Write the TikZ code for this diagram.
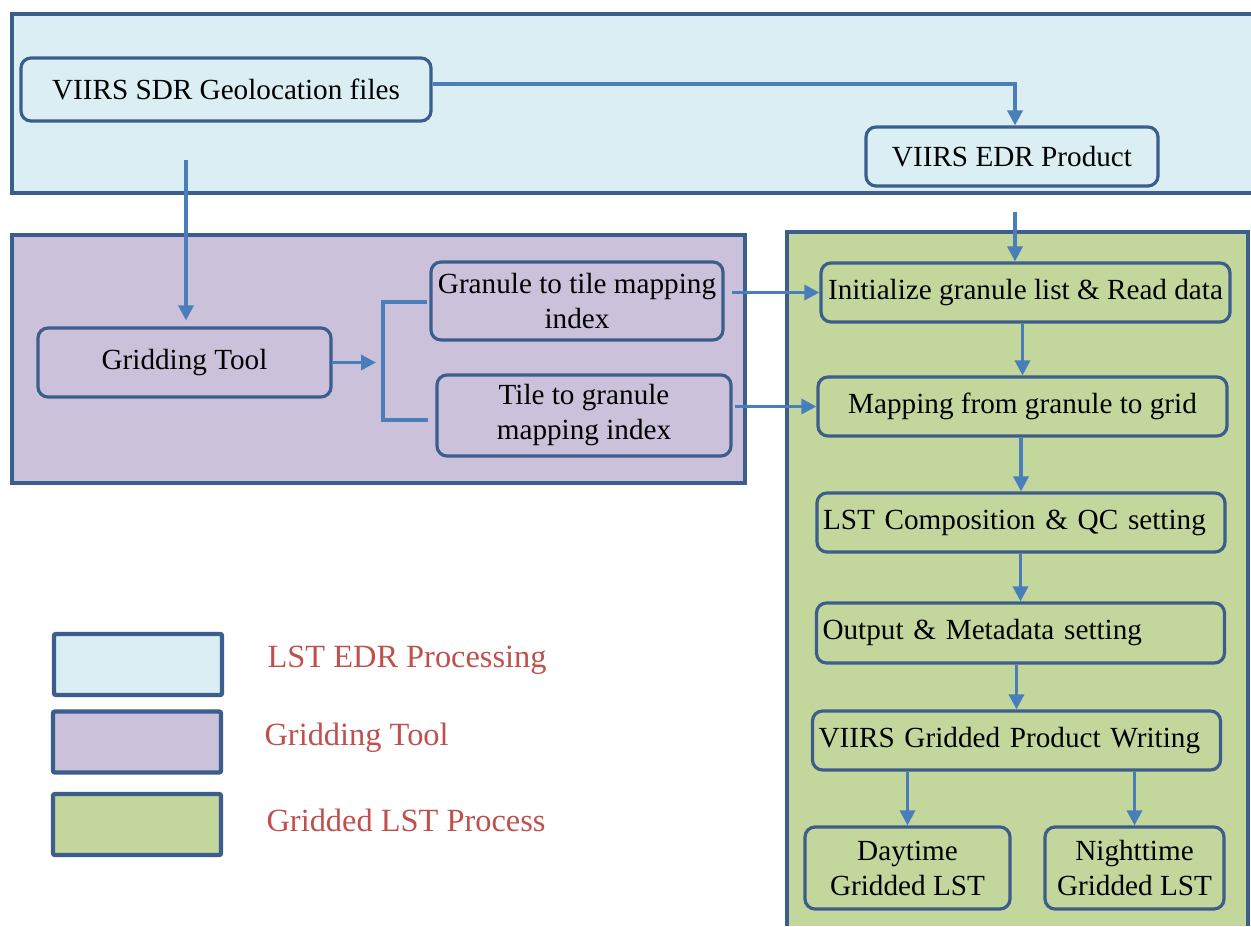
\documentclass[tikz,border=0pt]{standalone}
\usepackage{fontspec}
\setmainfont{Liberation Serif}
\usetikzlibrary{positioning,calc,arrows.meta}
\definecolor{edrblue}{HTML}{DAEEF3}
\definecolor{gridpurple}{HTML}{CCC1DA}
\definecolor{lstgreen}{HTML}{C3D69B}
\definecolor{framecol}{HTML}{3B5E8C}
\definecolor{linkcol}{HTML}{4A7EBB}
\definecolor{legred}{HTML}{C0504D}

\begin{document}
\begin{tikzpicture}[x=0.5pt,y=-0.5pt,
    every node/.style={font=\fontsize{14.6}{17.5}\selectfont},
    procbox/.style={rectangle,rounded corners=5pt,draw=framecol,line width=1.6pt,inner sep=0pt,align=center},
    leftbox/.style={procbox,align=left,inner xsep=3pt,text width=198pt},
    panel/.style={draw=framecol,line width=2pt},
    legbox/.style={rectangle,draw=framecol,line width=2.2pt,rounded corners=1pt,minimum width=84pt,minimum height=30.5pt,inner sep=0pt},
    legtext/.style={text=legred,inner sep=0pt,yshift=2pt,font=\fontsize{16.2}{19}\selectfont},
    link/.style={draw=linkcol,line width=1.7pt,-{Triangle[length=7.5pt,width=7.5pt]}},
    wire/.style={draw=linkcol,line width=1.7pt}]
    \useasboundingbox (0,0) rectangle (1251,926);
    % panels
    \fill[edrblue] (12,14) rectangle (1251,193);
    \draw[panel] (1251,14) -- (12,14) -- (12,193) -- (1251,193);
    \draw[panel,fill=gridpurple] (12,235) rectangle (745,483);
    \fill[lstgreen] (787,232) rectangle (1248,926);
    \draw[panel] (787,926) -- (787,232) -- (1248,232) -- (1248,926);
    % LST EDR processing
    \node[procbox,minimum width=205pt,minimum height=31.5pt] (sdr) at (226,89.5) {VIIRS SDR Geolocation files};
    \node[procbox,minimum width=146pt,minimum height=29.5pt] (edr) at (1012,156.5) {VIIRS EDR Product};
    % gridding tool
    \node[procbox,minimum width=146.5pt,minimum height=34.5pt] (grid) at (184.5,362.5) {Gridding Tool};
    \node[procbox,minimum width=146pt,minimum height=39pt] (g2t) at (577,301) {Granule to tile mapping\\index};
    \node[procbox,minimum width=147pt,minimum height=40.5pt] (t2g) at (584,415.5) {Tile to granule\\mapping index};
    % gridded LST process
    \node[procbox,minimum width=204.5pt,minimum height=29.5pt] (init) at (1025.5,292.5) {Initialize granule list \& Read data};
    \node[procbox,minimum width=204.5pt,minimum height=29.5pt] (map) at (1022.5,406.5) {Mapping from granule to grid};
    \node[leftbox,minimum height=29.5pt] (comp) at (1021,522.5) {LST Composition \& QC setting};
    \node[leftbox,minimum height=30pt] (meta) at (1020.5,633) {Output \& Metadata setting};
    \node[leftbox,minimum height=29.5pt] (write) at (1016.5,740.5) {VIIRS Gridded Product Writing};
    \node[procbox,minimum width=102.5pt,minimum height=41pt] (day) at (907.5,868) {Daytime\\Gridded LST};
    \node[procbox,minimum width=89.5pt,minimum height=41pt] (night) at (1134.5,868) {Nighttime\\Gridded LST};
    % connectors
    \coordinate (sdrdrop) at (186,160);
    \coordinate (edrdrop) at (1015,212);
    \coordinate (split) at (376,362.5);
    \coordinate (brtop) at (427,302);
    \coordinate (brbot) at (428,420);
    \draw[link] ([yshift=2.75pt]sdr.east) -| ([xshift=1.5pt]edr.north);
    \draw[link] (sdrdrop) -- ([yshift=3pt]sdrdrop |- grid.north);
    \draw[link] (grid.east) -- (split);
    \draw[wire] (brtop) -- (383,302) -- (383,420) -- (brbot);
    \draw[link] ([xshift=3.5pt]g2t.east |- init.west) -- (init.west);
    \draw[link] ([xshift=1pt]t2g.east |- map.west) -- (map.west);
    \draw[link] (edrdrop) -- (edrdrop |- init.north);
    \draw[link] (init.south -| map.north) -- (map.north);
    \draw[link] (map.south -| comp.north) -- (comp.north);
    \draw[link] (comp.south -| meta.north) -- (meta.north);
    \draw[link] (meta.south -| write.north) -- (write.north);
    \draw[link] (write.south -| day.north) -- (day.north);
    \draw[link] (write.south -| night.north) -- (night.north);
    % legend
    \node[legbox,fill=edrblue] (legedr) at (138,664.5) {};
    \node[legbox,fill=gridpurple] (leggrid) at (137,742) {};
    \node[legbox,fill=lstgreen] (leglst) at (137,824.5) {};
    \node[legtext,right=21.5pt of legedr] (legedrtxt) {LST EDR Processing};
    \node[legtext,right=20.5pt of leggrid] (leggridtxt) {Gridding Tool};
    \node[legtext,right=21.5pt of leglst] (leglsttxt) {Gridded LST Process};
\end{tikzpicture}
\end{document}
